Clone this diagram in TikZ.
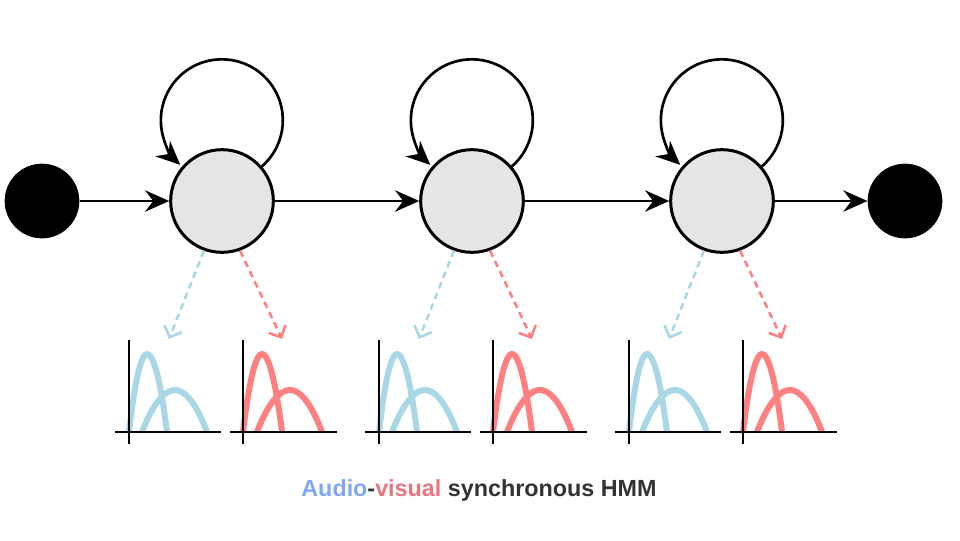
\documentclass[tikz,border=0pt]{standalone}
\usepackage{fontspec}
\setmainfont{Liberation Sans}
\usetikzlibrary{arrows.meta}
\definecolor{plotblue}{RGB}{170,215,230}
\definecolor{plotred}{RGB}{255,128,128}
\definecolor{txtblue}{RGB}{128,168,238}
\definecolor{txtred}{RGB}{232,118,126}
\definecolor{txtdark}{RGB}{51,51,51}
\definecolor{stategray}{RGB}{229,229,229}
\tikzset{
  statenode/.style={circle,draw=black,line width=2.25pt,fill=stategray,minimum size=77pt,inner sep=0pt},
  endnode/.style={circle,fill=black,minimum size=56pt,inner sep=0pt},
  trans/.style={line width=2pt,-{Stealth[length=18pt,width=16pt,inset=6pt]}},
  emitblue/.style={plotblue,line width=1.9pt,dash pattern=on 5pt off 3.5pt,-{Straight Barb[length=7pt,width=14pt,line width=1.9pt]}},
  emitred/.style={plotred,line width=1.9pt,dash pattern=on 5pt off 3.5pt,-{Straight Barb[length=7pt,width=14pt,line width=1.9pt]}},
  axisline/.style={black,line width=2pt},
  curveblue/.style={plotblue,line width=4.5pt},
  curvered/.style={plotred,line width=4.5pt},
}
\begin{document}
\begin{tikzpicture}[x=0.75pt,y=-0.75pt]
\useasboundingbox (0,0) rectangle (960,540);
\node[endnode] (start) at (42,201) {};
\node[endnode] (stop) at (905,201) {};
\foreach \i/\cx in {1/222,2/472,3/722}{
  \node[statenode] (s\i) at (\cx,201) {};
}
\draw[trans] (start) -- (s1);
\draw[trans] (s1) -- (s2);
\draw[trans] (s2) -- (s3);
\draw[trans] (s3) -- (stop);
\foreach \i in {1,2,3}{
  \draw[trans] (s\i.41) arc[start angle=49,end angle=-227,radius=61];
}
\foreach \i/\d in {1/0,2/250,3/500}{
  \begin{scope}[xshift=\d*0.75pt]
    \coordinate (ab\i) at (169,339);
    \coordinate (ar\i) at (282,339);
    % blue plot
    \draw[curveblue] (129,432) parabola bend (147,354) (167,432);
    \draw[curveblue] (142,432) parabola bend (175,390) (207,432);
    \draw[axisline] (129,340) -- (129,444);
    \draw[axisline] (115,432) -- (221,432);
    % red plot
    \draw[curvered] (243,432) parabola bend (262,354) (282,432);
    \draw[curvered] (257,432) parabola bend (290,390) (322,432);
    \draw[axisline] (243,340) -- (243,444);
    \draw[axisline] (230,432) -- (337,432);
  \end{scope}
  \draw[emitblue] (s\i.250) -- (ab\i);
  \draw[emitred] (s\i.290) -- (ar\i);
}
\node[font=\bfseries\fontsize{17.5pt}{20pt}\selectfont,text=txtdark] (title) at (479,490) {\textcolor{txtblue}{Audio}-\textcolor{txtred}{visual} synchronous HMM};
\end{tikzpicture}
\end{document}
